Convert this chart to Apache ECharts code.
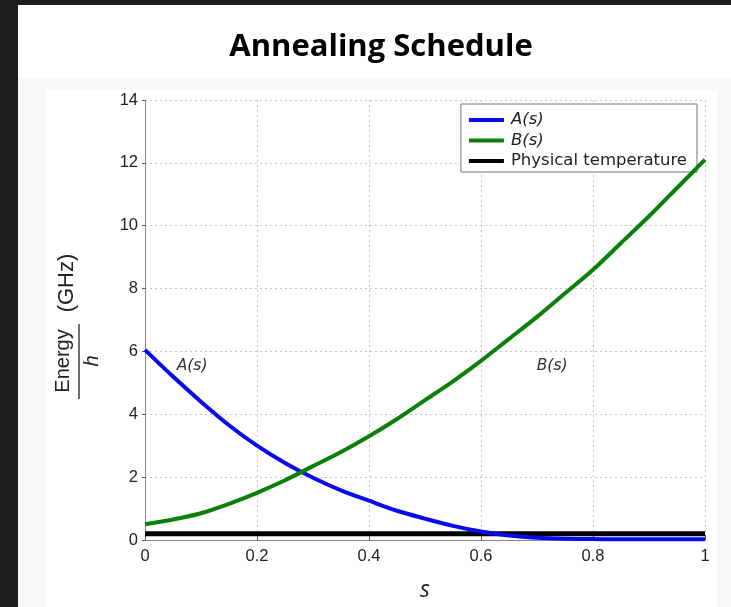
<!DOCTYPE html>
<html>
<head>
<meta charset="utf-8">
<script src="https://cdn.jsdelivr.net/npm/echarts@6/dist/echarts.min.js"></script>
<style>
html,body{margin:0;padding:0;background:#1e1e1e;}
#frame{position:absolute;left:18px;top:5px;width:713px;height:602px;background:#ffffff;}
#main{position:absolute;left:0;top:0;width:731px;height:607px;}
</style>
</head>
<body>
<div id="frame"></div>
<div id="main"></div>
<script>
var sValues = [0, 0.05, 0.1, 0.15, 0.2, 0.25, 0.3, 0.35, 0.4, 0.45, 0.5, 0.55, 0.6, 0.65, 0.7, 0.75, 0.8, 0.85, 0.9, 0.95, 1.0];
var aValues = [6.05, 5.2, 4.4, 3.65, 3.0, 2.45, 1.98, 1.58, 1.25, 0.93, 0.68, 0.45, 0.27, 0.14, 0.07, 0.04, 0.03, 0.02, 0.02, 0.02, 0.02];
var bValues = [0.5, 0.65, 0.85, 1.15, 1.5, 1.9, 2.35, 2.8, 3.3, 3.85, 4.45, 5.05, 5.7, 6.4, 7.1, 7.85, 8.6, 9.45, 10.3, 11.2, 12.1];
var tempValue = 0.2;
var xTicks = ['0', '0.2', '0.4', '0.6', '0.8', '1'];
var yTicks = ['0', '2', '4', '6', '8', '10', '12', '14'];
var seriesNames = ['A(s)', 'B(s)', 'Physical temperature'];

function pairs(xs, ys) { return xs.map(function (x, i) { return [x, ys[i]]; }); }
var tempData = [[0, tempValue], [1, tempValue]];

var chart = echarts.init(document.getElementById('main'), null, {renderer: 'canvas'});
var tickFont = {fontFamily: 'Liberation Sans', fontSize: 16.5, color: '#222'};
var annLabel = {show: true, position: 'inside', fontFamily: 'DejaVu Sans', fontStyle: 'italic', fontSize: 15.5, color: '#333'};
var option = {
  backgroundColor: 'transparent',
  animation: false,
  title: {
    text: 'Annealing Schedule', left: 376, top: 27, textAlign: 'center',
    textStyle: {fontFamily: 'Open Sans', fontWeight: 'bold', fontSize: 31, color: '#000'}
  },
  graphic: [
    {type: 'rect', left: 18, top: 78, shape: {width: 713, height: 529}, style: {fill: '#f8f8f8'}, z: -10, silent: true},
    {type: 'rect', left: 47, top: 90, shape: {width: 670, height: 517}, style: {fill: '#ffffff'}, z: -9, silent: true},
    {
      type: 'group', x: 0, y: 0, children: [
        {type: 'text', x: 67, y: 283, rotation: Math.PI / 2,
          style: {text: '(GHz)', fontFamily: 'Liberation Sans', fontSize: 22, fill: '#222', align: 'center', verticalAlign: 'middle'}},
        {type: 'text', x: 63, y: 361, rotation: Math.PI / 2,
          style: {text: 'Energy', fontFamily: 'Liberation Sans', fontSize: 20, fill: '#222', align: 'center', verticalAlign: 'middle'}},
        {type: 'line', shape: {x1: 79, y1: 324, x2: 79, y2: 399}, style: {stroke: '#222', lineWidth: 1.3}},
        {type: 'text', x: 92, y: 361, rotation: Math.PI / 2,
          style: {text: 'h', fontFamily: 'Liberation Sans', fontStyle: 'italic', fontSize: 20, fill: '#222', align: 'center', verticalAlign: 'middle'}}
      ]
    }
  ],
  grid: {left: 145, right: 26, top: 100, bottom: 62, containLabel: false},
  legend: {
    right: 34, top: 104, orient: 'vertical', itemGap: 2.5, itemWidth: 35, itemHeight: 4,
    backgroundColor: '#fff', borderColor: '#777', borderWidth: 1, padding: [7, 10, 2, 8],
    textStyle: {fontFamily: 'DejaVu Sans', fontSize: 16.5, color: '#222', padding: [0, 0, 0, 2], lineHeight: 18},
    data: [
      {name: seriesNames[0], icon: 'rect', textStyle: {fontStyle: 'italic'}},
      {name: seriesNames[1], icon: 'rect', textStyle: {fontStyle: 'italic'}},
      {name: seriesNames[2], icon: 'rect'}
    ]
  },
  xAxis: {
    type: 'value', min: 0, max: 1, interval: 0.2,
    name: 's', nameLocation: 'middle', nameGap: 39,
    nameTextStyle: {fontFamily: 'Open Sans', fontStyle: 'italic', fontSize: 23, color: '#222'},
    axisLine: {show: true, onZero: false, lineStyle: {color: '#888', width: 1}},
    axisTick: {show: true, inside: true, length: 5, lineStyle: {color: '#555'}},
    axisLabel: Object.assign({margin: 8, formatter: function (v) { return xTicks[Math.round(v / 0.2)]; }}, tickFont),
    splitLine: {show: true, lineStyle: {color: '#c4c4c4', type: [2, 3], width: 1}}
  },
  yAxis: {
    type: 'value', min: 0, max: 14, interval: 2,
    axisLine: {show: true, lineStyle: {color: '#888', width: 1}},
    axisTick: {show: true, inside: false, length: 3, lineStyle: {color: '#555'}},
    axisLabel: Object.assign({margin: 7, formatter: function (v) { return yTicks[Math.round(v / 2)]; }}, tickFont),
    splitLine: {show: true, lineStyle: {color: '#c4c4c4', type: [2, 3], width: 1}}
  },
  series: [
    {
      name: seriesNames[0], type: 'line', data: pairs(sValues, aValues), smooth: 0.3, symbol: 'none',
      lineStyle: {color: '#0a0af0', width: 4}, itemStyle: {color: '#0a0af0'}, z: 3,
      markPoint: {symbol: 'circle', symbolSize: 1, silent: true, itemStyle: {color: 'rgba(0,0,0,0)'},
        data: [{coord: [0.084, 5.54]}], label: Object.assign({formatter: 'A(s)'}, annLabel)}
    },
    {
      name: seriesNames[1], type: 'line', data: pairs(sValues, bValues), smooth: 0.3, symbol: 'none',
      lineStyle: {color: '#0a800a', width: 4}, itemStyle: {color: '#0a800a'}, z: 4,
      markPoint: {symbol: 'circle', symbolSize: 1, silent: true, itemStyle: {color: 'rgba(0,0,0,0)'},
        data: [{coord: [0.727, 5.54]}], label: Object.assign({formatter: 'B(s)'}, annLabel)}
    },
    {
      name: seriesNames[2], type: 'line', data: tempData, symbol: 'none',
      lineStyle: {color: '#000', width: 5}, itemStyle: {color: '#000'}, z: 2
    }
  ]
};
chart.setOption(option);
</script>
</body>
</html>
